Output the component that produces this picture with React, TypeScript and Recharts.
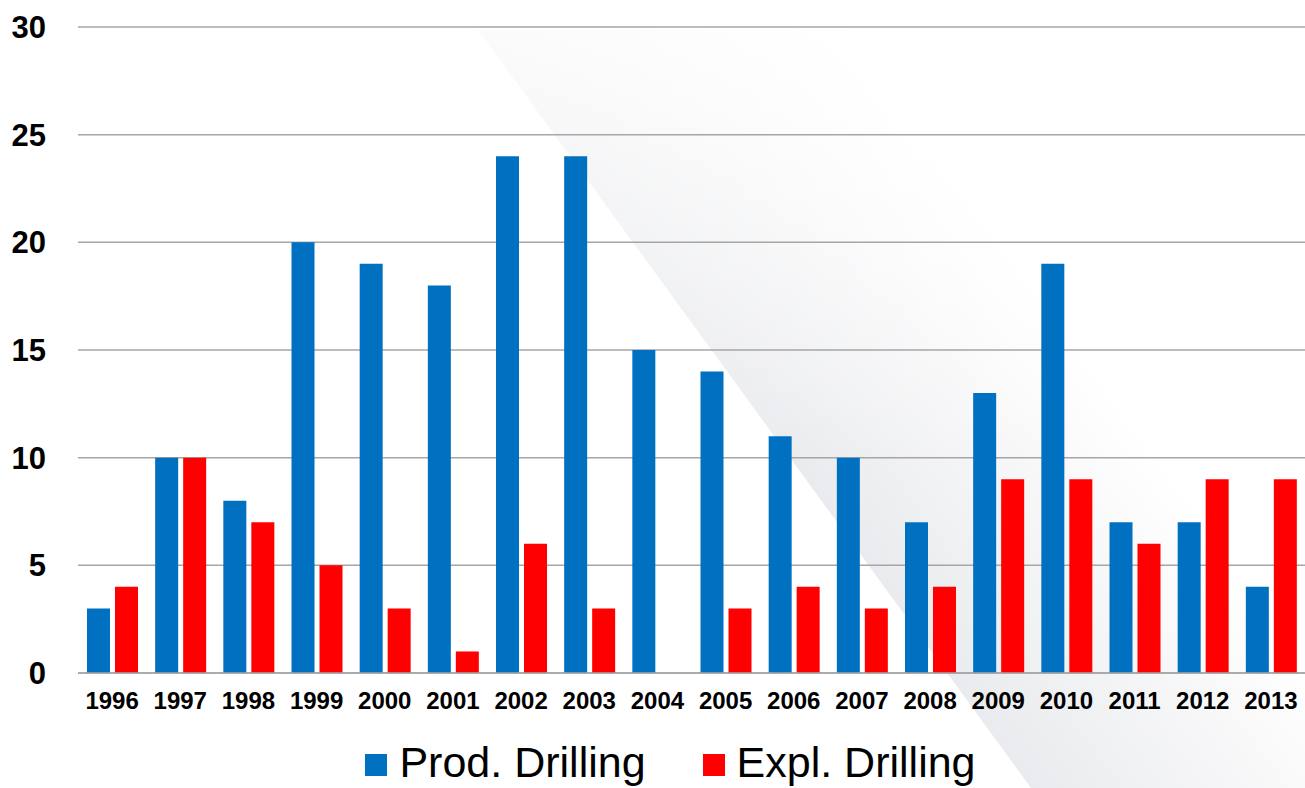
import { Bar, BarChart, CartesianGrid, Legend, XAxis, YAxis } from 'recharts';

const years = [
  '1996', '1997', '1998', '1999', '2000', '2001', '2002', '2003', '2004',
  '2005', '2006', '2007', '2008', '2009', '2010', '2011', '2012', '2013',
];
const prodDrilling = [3, 10, 8, 20, 19, 18, 24, 24, 15, 14, 11, 10, 7, 13, 19, 7, 7, 4];
const explDrilling = [4, 10, 7, 5, 3, 1, 6, 3, 0, 3, 4, 3, 4, 9, 9, 6, 9, 9];
const yTicks = [0, 5, 10, 15, 20, 25, 30];

const data = years.map((year, i) => ({
  year,
  prod: prodDrilling[i],
  expl: explDrilling[i],
}));

const BLUE = '#0070C0';
const RED = '#FF0000';
const font = '"Liberation Sans", Arial, sans-serif';

function LegendBox() {
  const items = [
    { label: 'Prod. Drilling', color: BLUE },
    { label: 'Expl. Drilling', color: RED },
  ];
  return (
    <div
      style={{
        display: 'flex',
        justifyContent: 'center',
        alignItems: 'center',
        gap: 57,
        height: 65,
        paddingLeft: 36,
        paddingTop: 14,
        boxSizing: 'border-box',
        fontFamily: font,
        fontSize: 43,
        color: '#000',
      }}
    >
      {items.map((it) => (
        <div key={it.label} style={{ display: 'flex', alignItems: 'center', gap: 12 }}>
          <span style={{ width: 22, height: 22, background: it.color, display: 'inline-block', marginTop: 4 }} />
          <span>{it.label}</span>
        </div>
      ))}
    </div>
  );
}

export default function App() {
  return (
    <div style={{ position: 'absolute', left: 0, top: 0, width: 1305, height: 788, background: '#fff' }}>
      {/* decorative diagonal backdrop */}
      <svg width={1305} height={788} style={{ position: 'absolute', left: 0, top: 0 }}>
        <defs>
          <linearGradient id="band" gradientUnits="userSpaceOnUse" x1={760} y1={415} x2={1000} y2={240}>
            <stop offset="0%" stopColor="#eaebee" />
            <stop offset="100%" stopColor="#ffffff" />
          </linearGradient>
          <linearGradient id="topFade" x1="0" y1="0" x2="0" y2="1">
            <stop offset="0%" stopColor="#ffffff" stopOpacity={0.85} />
            <stop offset="60%" stopColor="#ffffff" stopOpacity={0} />
          </linearGradient>
        </defs>
        <polygon points="478,30 1305,30 1305,788 1031,788" fill="url(#band)" />
        <rect x={0} y={0} width={1305} height={788} fill="url(#topFade)" />
      </svg>
      <div style={{ position: 'absolute', left: 0, top: 0 }}>
        <BarChart
          width={1305}
          height={788}
          data={data}
          margin={{ top: 27, right: 0, bottom: 0, left: 0 }}
          barGap={5}
        >
          <CartesianGrid horizontal vertical={false} stroke="#a6a6a6" strokeWidth={1.5} />
          <XAxis
            dataKey="year"
            height={50}
            tickLine={false}
            tickSize={0}
            tickMargin={19}
            axisLine={{ stroke: '#a6a6a6', strokeWidth: 1.5 }}
            interval={0}
            tick={{ fill: '#000', fontSize: 24, fontWeight: 700, fontFamily: font }}
          />
          <YAxis
            width={78}
            domain={[0, 30]}
            ticks={yTicks}
            axisLine={false}
            tickLine={false}
            tickSize={0}
            tickMargin={32}
            tick={{ fill: '#000', fontSize: 31, fontWeight: 700, fontFamily: font }}
          />
          <Legend verticalAlign="bottom" height={65} content={() => <LegendBox />} />
          <Bar dataKey="prod" name="Prod. Drilling" fill={BLUE} barSize={23} isAnimationActive={false} />
          <Bar dataKey="expl" name="Expl. Drilling" fill={RED} barSize={23} isAnimationActive={false} />
        </BarChart>
      </div>
    </div>
  );
}
